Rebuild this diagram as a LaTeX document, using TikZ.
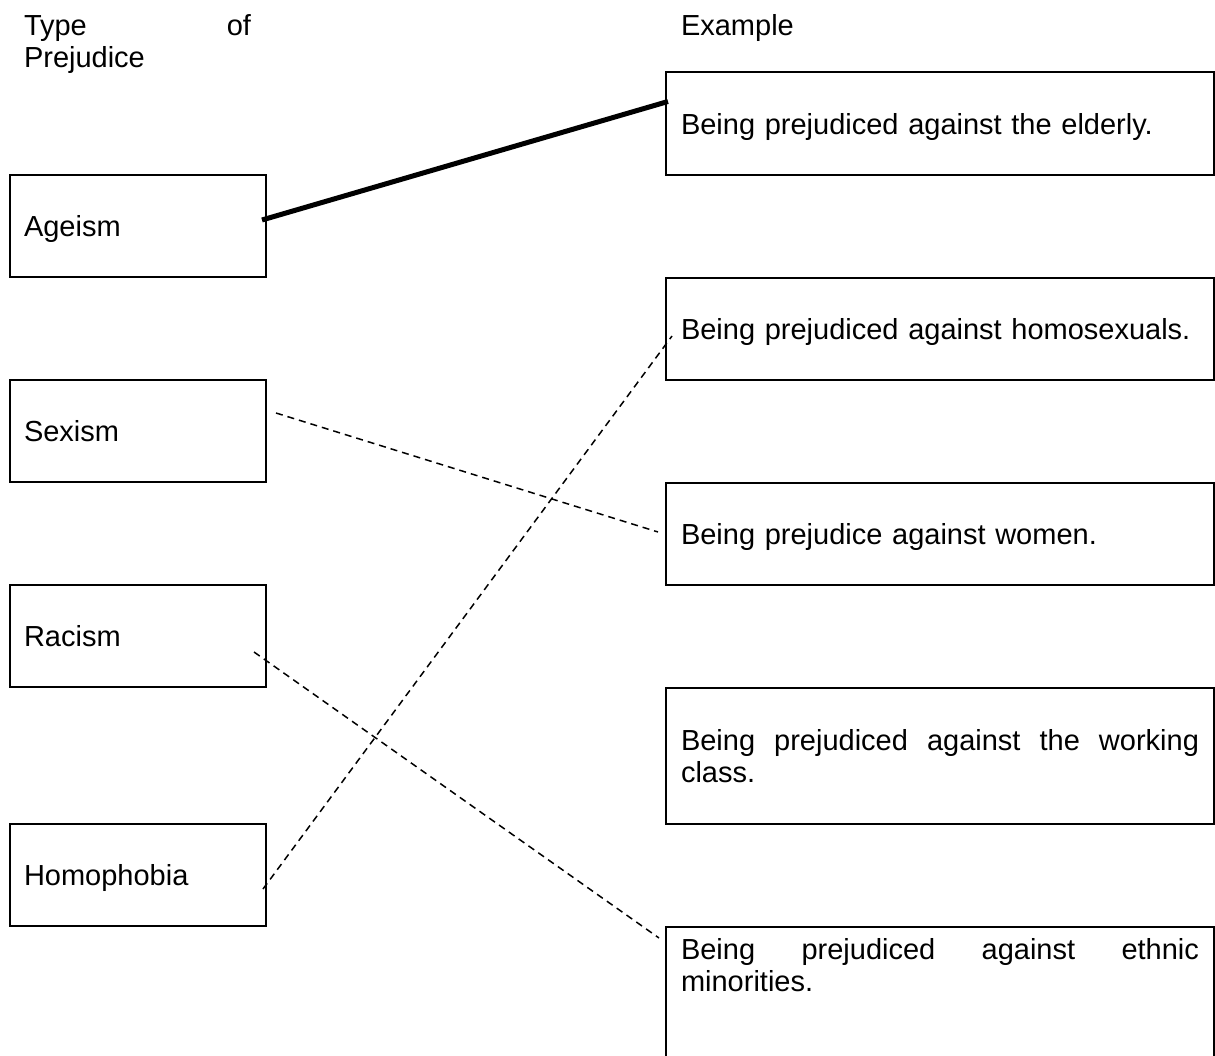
\documentclass[tikz,border=0pt]{standalone}
\usepackage{fontspec}
\setmainfont{Liberation Sans}
\usetikzlibrary{calc}
\begin{document}
\begin{tikzpicture}[x=1pt,y=-1pt,
  txt/.style={inner sep=0pt, outer sep=0pt, font=\fontsize{29}{32}\selectfont},
  box/.style={txt, draw, line width=2pt, anchor=north west, inner xsep=14pt, inner ysep=0pt, align=left},
  lbox/.style={box, text width=228pt, minimum height=102pt, text depth=0pt},
  rbox/.style={box, inner xsep=15pt, text width=518pt},
  oneline/.style={text depth=0pt},
  thickline/.style={line width=5pt},
  dashline/.style={line width=1.5pt, dash pattern=on 7pt off 5pt}]
\path[use as bounding box] (0,0) rectangle (1215,1056);
\clip (0,0) rectangle (1215,1056);
% headers
\node[txt, anchor=north west, text width=227pt, align=left] (typehead) at (24,15) {Type\hfill of\\Prejudice};
\node[txt, anchor=base west] (examplehead) at (681,36) {Example};
% left boxes
\node[lbox] (ageism) at (10,175) {Ageism};
\node[lbox] (sexism) at (10,380) {Sexism};
\node[lbox] (racism) at (10,585) {Racism};
\node[lbox] (homophobia) at (10,824) {Homophobia};
% right boxes
\node[rbox, oneline, minimum height=103pt] (elderly) at (666,72) {Being prejudiced against the elderly.};
\node[rbox, oneline, minimum height=102pt] (homosexuals) at (666,278) {Being prejudiced against homosexuals.};
\node[rbox, oneline, minimum height=102pt] (women) at (666,483) {Being prejudice against women.};
\node[rbox, minimum height=136pt] (working) at (666,688) {Being\hfill prejudiced\hfill against\hfill the\hfill working\\class.};
\node[rbox, minimum height=150pt] (ethnicbox) at (666,927) {};
\node[txt, anchor=west, text width=518pt, align=left] (ethnic) at (681,965) {Being\hfill prejudiced\hfill against\hfill ethnic\\minorities.};
% connectors
\draw[thickline] ($(ageism.east)+(-4,-6)$) -- ($(elderly.west)+(2,-22)$);
\draw[dashline] ($(sexism.east)+(10,-18)$) -- ($(women.west)+(-8,-2)$);
\draw[dashline] ($(homophobia.east)+(-3,14)$) -- ($(homosexuals.west)+(6,7)$);
\draw[dashline] ($(racism.east)+(-12,16)$) -- ($(ethnicbox.north west)+(-7,11)$);
\end{tikzpicture}
\end{document}
